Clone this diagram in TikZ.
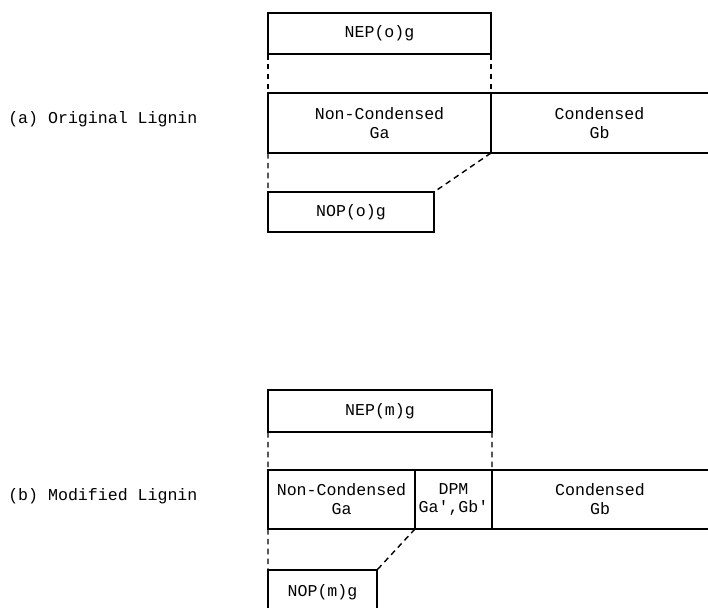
\documentclass[tikz,border=0pt]{standalone}
\usepackage{fontspec}
\newfontfamily\ligfont{Liberation Mono}
\usetikzlibrary{positioning}

\begin{document}
\begin{tikzpicture}[
        font=\ligfont\fontsize{11.8}{13.5}\selectfont,
        part/.style={rectangle,draw,line width=1.2pt,inner sep=0pt,outer sep=0pt,align=center},
        link/.style={line width=1pt,dash pattern=on 4pt off 3pt}
    ]

            % \draw [help lines] (0,0) grid (18,15);
            \useasboundingbox (0,0) rectangle (17.7,15.175);
            \clip (0,0) rectangle (17.7,15.175);

            % (a) original lignin
            \path   (9.4875,14.3375) node (nepo) [part,minimum width=5.575cm,minimum height=1.025cm] {NEP(o)g}
                    (9.4875,12.1)    node (ncona) [part,minimum width=5.575cm,minimum height=1.5cm] {Non-Condensed\\Ga}
                    (14.9875,12.1)   node (cona) [align=center] {Condensed\\Gb}
                    (8.775,9.875)    node (nopo) [part,minimum width=4.15cm,minimum height=1cm] {NOP(o)g};

            \coordinate (enda1) at (17.7,12.85);
            \coordinate (enda2) at (17.7,11.35);

            \draw[line width=1.2pt] (ncona.north east) -- (enda1);
            \draw[line width=1.2pt] (ncona.south east) -- (enda2);

            \draw[link] (nepo.south west) -- (ncona.north west);
            \draw[link] (nepo.south east) -- (ncona.north east);
            \draw[link] (ncona.south west) -- (nopo.north west);
            \draw[link] (ncona.south east) -- (nopo.north east);

            % (b) modified lignin
            \path   (9.5,4.9)        node (nepm) [part,minimum width=5.6cm,minimum height=1.05cm] {NEP(m)g}
                    (8.5375,2.6875)  node (nconb) [part,minimum width=3.675cm,minimum height=1.475cm] {Non-Condensed\\Ga}
                    (11.3375,2.6875) node (dpm) [part,minimum width=1.925cm,minimum height=1.475cm] {DPM\\Ga',Gb'}
                    (15.0,2.6875)    node (conb) [align=center] {Condensed\\Gb}
                    (8.0625,0.375)   node (nopm) [part,minimum width=2.725cm,minimum height=1.1cm] {NOP(m)g};

            \coordinate (endb1) at (17.7,3.425);
            \coordinate (endb2) at (17.7,1.95);

            \draw[line width=1.2pt] (dpm.north east) -- (endb1);
            \draw[line width=1.2pt] (dpm.south east) -- (endb2);

            \draw[link] (nepm.south west) -- (nconb.north west);
            \draw[link] (nepm.south east) -- (dpm.north east);
            \draw[link] (nconb.south west) -- (nopm.north west);
            \draw[link] (dpm.south west) -- (nopm.north east);

            \node (laba) [anchor=west,inner sep=0pt] at (0.2,12.2) {(a) Original Lignin};
            \node (labb) [anchor=west,inner sep=0pt] at (0.2,2.78) {(b) Modified Lignin};
        \end{tikzpicture}
\end{document}
